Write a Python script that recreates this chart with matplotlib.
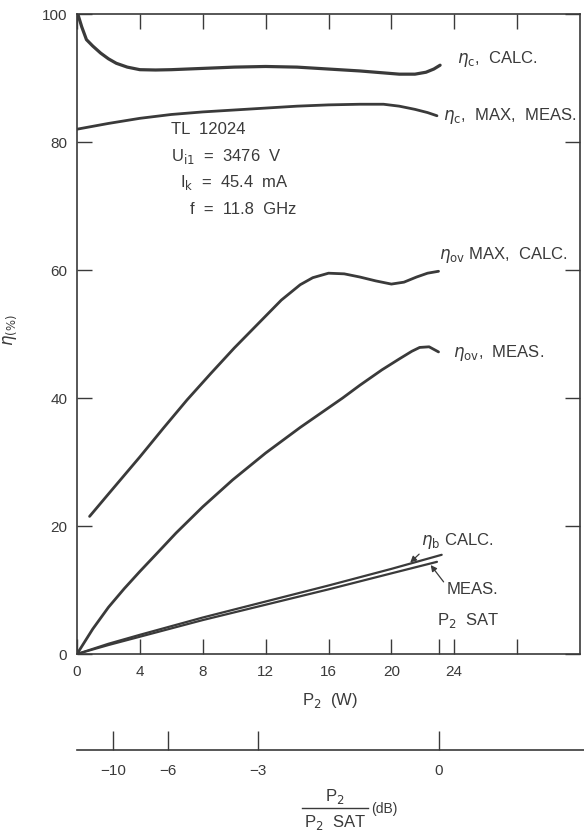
import numpy as np
import matplotlib
matplotlib.use("Agg")
from matplotlib import pyplot as plt
from matplotlib.ticker import FixedLocator
from matplotlib.lines import Line2D

plt.rcParams['font.family'] = ['Liberation Sans', 'DejaVu Sans']
plt.rcParams['mathtext.fontset'] = 'dejavusans'

INK = '#3a3a3a'

# eta_c, calculated
etac_calc_x = [0.05, 0.3, 0.6, 1.0, 1.5, 2.0, 2.5, 3.2, 4, 5, 6, 8, 10, 12, 14, 16, 18, 19.5, 20.5, 21.5, 22.2, 22.7, 23.1]
etac_calc_y = [100, 98, 96, 95, 93.9, 93.0, 92.3, 91.7, 91.3, 91.25, 91.3, 91.5, 91.7, 91.8, 91.7, 91.4, 91.1, 90.8, 90.6, 90.6, 90.9, 91.4, 92.0]
# eta_c, max, measured
etac_meas_x = [0, 2, 4, 6, 8, 10, 12, 14, 16, 18, 19.5, 20.5, 21.5, 22.3, 22.9]
etac_meas_y = [82, 82.9, 83.7, 84.3, 84.7, 85.0, 85.3, 85.6, 85.8, 85.9, 85.9, 85.6, 85.1, 84.6, 84.1]
# eta_ov, max, calculated
etaov_calc_x = [0.8, 2, 4, 5.5, 7, 8.5, 10, 12, 13, 14.2, 15, 16, 17, 18, 19, 20, 20.8, 21.6, 22.3, 23]
etaov_calc_y = [21.5, 25, 30.8, 35.3, 39.7, 43.8, 47.8, 52.8, 55.3, 57.7, 58.8, 59.5, 59.4, 58.9, 58.3, 57.8, 58.1, 58.9, 59.5, 59.8]
# eta_ov, measured
etaov_meas_x = [0, 1, 2, 3, 4, 5, 6.3, 8, 9.9, 12, 14.2, 16.9, 18, 19.4, 20.5, 21.3, 21.8, 22.4, 23]
etaov_meas_y = [0, 3.9, 7.3, 10.2, 12.9, 15.5, 18.9, 23.0, 27.2, 31.4, 35.4, 40, 42, 44.4, 46.1, 47.3, 47.9, 48, 47.2]
# eta_b, calculated / measured
etab_calc_x = [0, 2, 4, 8, 12, 16, 20, 23.2]
etab_calc_y = [0, 1.6, 3.0, 5.7, 8.2, 10.7, 13.3, 15.5]
etab_meas_x = [0, 2, 4, 8, 12, 16, 20, 22.9]
etab_meas_y = [0, 1.4, 2.7, 5.3, 7.7, 10.1, 12.6, 14.4]

x_ticks = [0, 4, 8, 12, 16, 20, 24, 28]
x_ticklabels = ['0', '4', '8', '12', '16', '20', '24', '']
y_ticks = [0, 20, 40, 60, 80, 100]
p2_sat = 23
db_ticks = [-10, -6, -3, 0]
db_labels = ['\u221210', '\u22126', '\u22123', '0']

fig = plt.figure(figsize=(5.84, 8.36), dpi=100)
ax = fig.add_axes([77/584, 1-654/836, 503/584, 640/836])

ax.plot(etac_calc_x, etac_calc_y, color=INK, lw=2.3, solid_capstyle='round')
ax.plot(etac_meas_x, etac_meas_y, color=INK, lw=2.0, solid_capstyle='round')
ax.plot(etaov_calc_x, etaov_calc_y, color=INK, lw=2.0, solid_capstyle='round')
ax.plot(etaov_meas_x, etaov_meas_y, color=INK, lw=2.0, solid_capstyle='round')
ax.plot(etab_calc_x, etab_calc_y, color=INK, lw=1.6, solid_capstyle='round')
ax.plot(etab_meas_x, etab_meas_y, color=INK, lw=1.6, solid_capstyle='round')

ax.set_xlim(0, 32)
ax.set_ylim(0, 100)
ax.set_xticks(x_ticks)
ax.set_xticklabels(x_ticklabels)
ax.xaxis.set_minor_locator(FixedLocator([p2_sat]))
ax.set_yticks(y_ticks)
ax.tick_params(which='both', direction='in', length=11, width=1.0, color=INK,
               labelcolor=INK, labelsize=11, top=True, right=True)
ax.tick_params(which='minor', top=False)
ax.tick_params(axis='x', pad=8)
ax.tick_params(axis='y', pad=7)
for s in ax.spines.values():
    s.set_color(INK)
    s.set_linewidth(1.2)

fs = 12
ax.text(24.2, 93, r'$\eta_{\rm c}$,  CALC.', fontsize=fs, color=INK, va='center')
ax.text(23.3, 84, r'$\eta_{\rm c}$,  MAX,  MEAS.', fontsize=fs, color=INK, va='center')
ax.text(6.0, 81.9, 'TL  12024', fontsize=fs, color=INK, va='center')
ax.text(6.0, 77.7, r'U$_{\rm i1}$  =  3476  V', fontsize=fs, color=INK, va='center')
ax.text(6.55, 73.6, r'I$_{\rm k}$  =  45.4  mA', fontsize=fs, color=INK, va='center')
ax.text(7.2, 69.4, 'f  =  11.8  GHz', fontsize=fs, color=INK, va='center')
ax.text(23.0, 62.3, r'$\eta_{\rm ov}$ MAX,  CALC.', fontsize=fs, color=INK, va='center')
ax.text(23.9, 47, r'$\eta_{\rm ov}$,  MEAS.', fontsize=fs, color=INK, va='center')
ax.annotate(r'$\eta_{\rm b}$ CALC.', xy=(21.2, 14.3), xytext=(21.9, 17.6),
            fontsize=fs, color=INK, va='center',
            arrowprops=dict(arrowstyle='-|>', color=INK, lw=0.9, mutation_scale=9,
                            shrinkA=0, shrinkB=0, relpos=(0.1, 0.3)))
ax.annotate('MEAS.', xy=(22.5, 13.9), xytext=(23.5, 10),
            fontsize=fs, color=INK, va='center',
            arrowprops=dict(arrowstyle='-|>', color=INK, lw=0.9, mutation_scale=9,
                            shrinkA=0, shrinkB=0, relpos=(0.0, 0.8)))
ax.text(22.9, 5.3, r'P$_2$  SAT', fontsize=fs, color=INK, va='center')

fig.text(330/584, 1-700/836, r'P$_2$  (W)', fontsize=fs, color=INK, ha='center', va='center')
fig.text(10/584, 1-330/836, r'$\eta_{(\%)}$', fontsize=12, color=INK, ha='center', va='center', rotation=90)

# lower dB scale
ax2 = fig.add_axes([77/584, 1-750/836, 507/584, 0.001])
ax2.set_xlim(0, 507/503*32)
ax2.set_ylim(0, 1)
for k in ['top', 'left', 'right']:
    ax2.spines[k].set_visible(False)
ax2.spines['bottom'].set_color(INK)
ax2.spines['bottom'].set_linewidth(1.2)
ax2.set_yticks([])
ax2.set_xticks([p2_sat * 10 ** (d / 10) for d in db_ticks])
ax2.set_xticklabels(db_labels)
ax2.tick_params(axis='x', direction='in', length=14, width=1.0, color=INK,
                labelcolor=INK, labelsize=11, pad=10)
ax2.patch.set_visible(False)

# fraction label
fx = 335/584
fig.text(fx, 1-796/836, r'P$_2$', fontsize=fs, color=INK, ha='center', va='center')
fig.add_artist(Line2D([302/584, 368/584], [1-808/836, 1-808/836], color=INK, lw=1.0))
fig.text(fx, 1-823/836, r'P$_2$  SAT', fontsize=fs, color=INK, ha='center', va='center')
fig.text(371/584, 1-809/836, '(dB)', fontsize=10, color=INK, ha='left', va='center')

fig.savefig('out.png', dpi=100)
